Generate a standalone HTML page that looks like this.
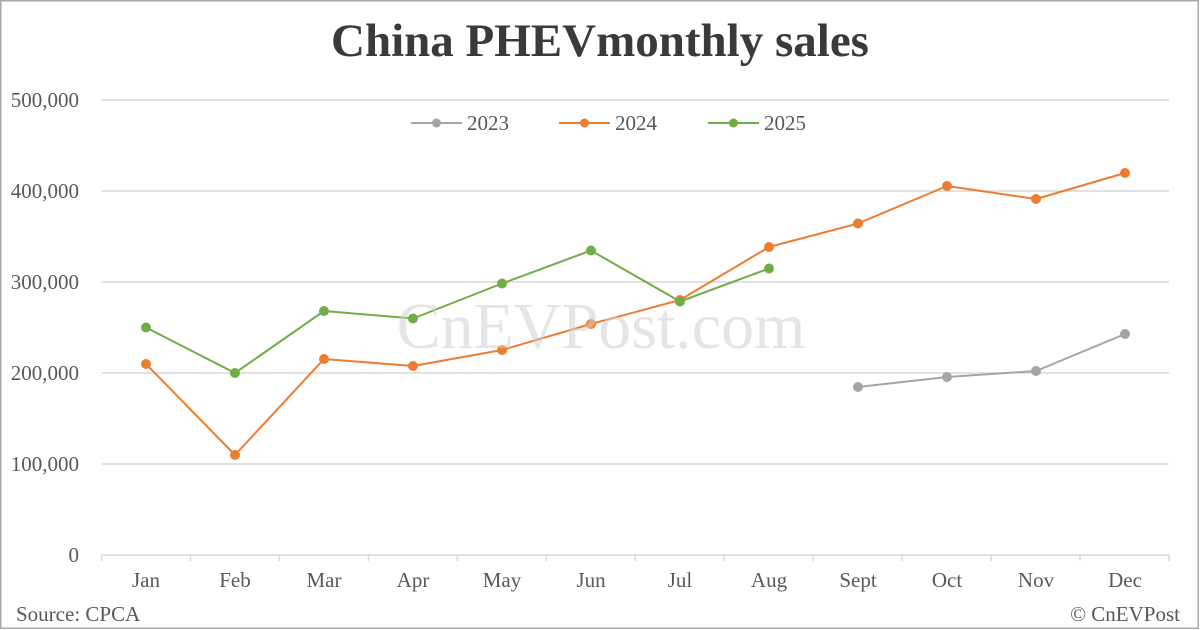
<!DOCTYPE html>
<html>
<head>
<meta charset="utf-8">
<style>
html,body{margin:0;padding:0;background:#fff;width:1200px;height:630px;overflow:hidden;}
svg{display:block;}
text{font-family:"Liberation Serif","Times New Roman",serif;}
</style>
</head>
<body>
<svg width="1200" height="630" viewBox="0 0 1200 630" xmlns="http://www.w3.org/2000/svg">
  <rect x="0" y="0" width="1200" height="630" fill="#ffffff"/>
  <rect x="0.75" y="0.75" width="1197.5" height="627.5" fill="none" stroke="#a8a8a8" stroke-width="1.5"/>

  <!-- Title -->
  <text x="600" y="56" text-anchor="middle" font-size="47" font-weight="bold" fill="#3a3a3a">China PHEVmonthly sales</text>

  <!-- Gridlines -->
  <g stroke="#d9d9d9" stroke-width="1.5">
    <line x1="101.5" y1="100" x2="1169" y2="100"/>
    <line x1="101.5" y1="191" x2="1169" y2="191"/>
    <line x1="101.5" y1="282" x2="1169" y2="282"/>
    <line x1="101.5" y1="373" x2="1169" y2="373"/>
    <line x1="101.5" y1="464" x2="1169" y2="464"/>
    <line x1="101.5" y1="555" x2="1169" y2="555"/>
  </g>
  <!-- Ticks -->
  <g stroke="#d9d9d9" stroke-width="1.5">
    <line x1="101.5" y1="555" x2="101.5" y2="561"/>
    <line x1="190.5" y1="555" x2="190.5" y2="561"/>
    <line x1="279.4" y1="555" x2="279.4" y2="561"/>
    <line x1="368.4" y1="555" x2="368.4" y2="561"/>
    <line x1="457.3" y1="555" x2="457.3" y2="561"/>
    <line x1="546.3" y1="555" x2="546.3" y2="561"/>
    <line x1="635.3" y1="555" x2="635.3" y2="561"/>
    <line x1="724.2" y1="555" x2="724.2" y2="561"/>
    <line x1="813.2" y1="555" x2="813.2" y2="561"/>
    <line x1="902.1" y1="555" x2="902.1" y2="561"/>
    <line x1="991.1" y1="555" x2="991.1" y2="561"/>
    <line x1="1080" y1="555" x2="1080" y2="561"/>
    <line x1="1169" y1="555" x2="1169" y2="561"/>
  </g>

  <!-- Y labels -->
  <g font-size="21" fill="#595959" text-anchor="end">
    <text x="79" y="107">500,000</text>
    <text x="79" y="198">400,000</text>
    <text x="79" y="289">300,000</text>
    <text x="79" y="380">200,000</text>
    <text x="79" y="471">100,000</text>
    <text x="79" y="562">0</text>
  </g>

  <!-- X labels -->
  <g font-size="21" fill="#595959" text-anchor="middle">
    <text x="146" y="587">Jan</text>
    <text x="235" y="587">Feb</text>
    <text x="324" y="587">Mar</text>
    <text x="413" y="587">Apr</text>
    <text x="502" y="587">May</text>
    <text x="591" y="587">Jun</text>
    <text x="680" y="587">Jul</text>
    <text x="769" y="587">Aug</text>
    <text x="858" y="587">Sept</text>
    <text x="947" y="587">Oct</text>
    <text x="1036" y="587">Nov</text>
    <text x="1125" y="587">Dec</text>
  </g>

  <!-- Legend -->
  <g stroke-width="2">
    <line x1="411" y1="123" x2="462" y2="123" stroke="#a5a5a5"/>
    <circle cx="436.5" cy="123" r="4.5" fill="#a5a5a5"/>
    <line x1="559" y1="123" x2="610" y2="123" stroke="#ed7d31"/>
    <circle cx="584.5" cy="123" r="4.5" fill="#ed7d31"/>
    <line x1="708" y1="123" x2="759" y2="123" stroke="#70ad47"/>
    <circle cx="733.5" cy="123" r="4.5" fill="#70ad47"/>
  </g>
  <g font-size="21" fill="#595959">
    <text x="467" y="130">2023</text>
    <text x="615" y="130">2024</text>
    <text x="764" y="130">2025</text>
  </g>

  <!-- 2023 -->
  <polyline fill="none" stroke="#a5a5a5" stroke-width="2" stroke-linejoin="round"
    points="858,387 947,377 1036,371 1125,334"/>
  <g fill="#a5a5a5">
    <circle cx="858" cy="387" r="5"/>
    <circle cx="947" cy="377" r="5"/>
    <circle cx="1036" cy="371" r="5"/>
    <circle cx="1125" cy="334" r="5"/>
  </g>

  <!-- 2024 -->
  <polyline fill="none" stroke="#ed7d31" stroke-width="2" stroke-linejoin="round"
    points="146,364 235,455 324,359 413,366 502,350 591,324 680,300 769,247 858,223.5 947,186 1036,199 1125,173"/>
  <g fill="#ed7d31">
    <circle cx="146" cy="364" r="5"/>
    <circle cx="235" cy="455" r="5"/>
    <circle cx="324" cy="359" r="5"/>
    <circle cx="413" cy="366" r="5"/>
    <circle cx="502" cy="350" r="5"/>
    <circle cx="591" cy="324" r="5"/>
    <circle cx="680" cy="300" r="5"/>
    <circle cx="769" cy="247" r="5"/>
    <circle cx="858" cy="223.5" r="5"/>
    <circle cx="947" cy="186" r="5"/>
    <circle cx="1036" cy="199" r="5"/>
    <circle cx="1125" cy="173" r="5"/>
  </g>

  <!-- 2025 -->
  <polyline fill="none" stroke="#70ad47" stroke-width="2" stroke-linejoin="round"
    points="146,327.5 235,373 324,311 413,318.5 502,283.5 591,250.5 680,301.5 769,268.5"/>
  <g fill="#70ad47">
    <circle cx="146" cy="327.5" r="5"/>
    <circle cx="235" cy="373" r="5"/>
    <circle cx="324" cy="311" r="5"/>
    <circle cx="413" cy="318.5" r="5"/>
    <circle cx="502" cy="283.5" r="5"/>
    <circle cx="591" cy="250.5" r="5"/>
    <circle cx="680" cy="301.5" r="5"/>
    <circle cx="769" cy="268.5" r="5"/>
  </g>

  <!-- Watermark -->
  <text x="601" y="348" text-anchor="middle" font-size="66" fill="#cfcfcf" fill-opacity="0.55">CnEVPost.com</text>

  <!-- Footer -->
  <text x="16" y="621" font-size="21" fill="#595959">Source: CPCA</text>
  <text x="1180" y="621" font-size="21" fill="#595959" text-anchor="end">© CnEVPost</text>
</svg>
</body>
</html>
